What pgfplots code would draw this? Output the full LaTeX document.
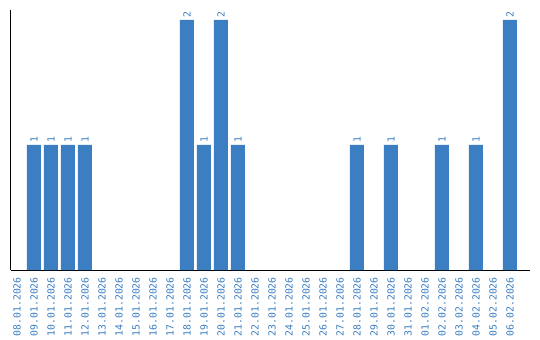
\documentclass[border=0pt]{standalone}
\usepackage{pgfplots}
\pgfplotsset{compat=1.18}
\usepackage{pgfplotstable}
\usepackage{fontspec}
\newfontfamily\labelfont{DejaVu Sans Mono}
\definecolor{barblue}{RGB}{59,126,193}
\definecolor{lblblue}{RGB}{58,125,192}
\pgfplotstableread{
x y
0 0
1 1
2 1
3 1
4 1
5 0
6 0
7 0
8 0
9 0
10 2
11 1
12 2
13 1
14 0
15 0
16 0
17 0
18 0
19 0
20 1
21 0
22 1
23 0
24 0
25 1
26 0
27 1
28 0
29 2
}\datatable
\begin{document}
\begin{tikzpicture}
\begin{axis}[
  at={(0,0)}, anchor=south west,
  scale only axis,
  width=519.5bp, height=260bp,
  xmin=-0.382, xmax=30.18, ymin=0, ymax=2.08,
  axis lines*=left,
  axis line style={black, line width=1bp},
  ytick=\empty,
  xtick={0,...,29},
  xticklabels={08.01.2026,09.01.2026,10.01.2026,11.01.2026,12.01.2026,13.01.2026,14.01.2026,15.01.2026,16.01.2026,17.01.2026,18.01.2026,19.01.2026,20.01.2026,21.01.2026,22.01.2026,23.01.2026,24.01.2026,25.01.2026,26.01.2026,27.01.2026,28.01.2026,29.01.2026,30.01.2026,31.01.2026,01.02.2026,02.02.2026,03.02.2026,04.02.2026,05.02.2026,06.02.2026},
  major tick length=0pt,
  xticklabel shift=7bp,
  xticklabel style={rotate=90, anchor=east, inner sep=0pt, text=lblblue, font=\labelfont\fontsize{9.8bp}{10bp}\selectfont},
  ybar, bar width=14bp,
  unbounded coords=discard,
  y filter/.expression={y==0 ? nan : y},
  clip=false,
  nodes near coords={\textcolor{lblblue}{\labelfont\fontsize{9.8bp}{10bp}\selectfont\pgfmathprintnumber[assume math mode=true]{\pgfplotspointmeta}}},
  nodes near coords style={rotate=90, anchor=west, inner sep=2bp, scale=1},
]
\addplot[fill=barblue, draw=none]
  table[x=x, y=y] {\datatable};
\end{axis}
\path[use as bounding box] (-10.5bp,-70bp) rectangle (529.5bp,270bp);
\end{tikzpicture}
\end{document}
